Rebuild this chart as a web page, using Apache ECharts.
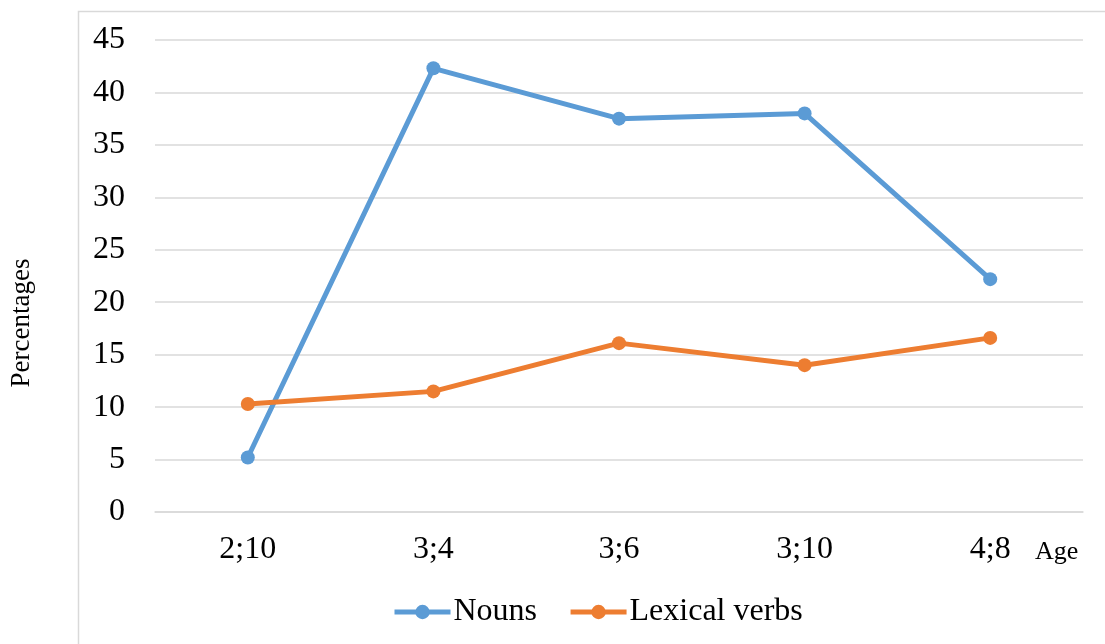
<!DOCTYPE html>
<html>
<head>
<meta charset="utf-8">
<script src="https://cdn.jsdelivr.net/npm/echarts@6/dist/echarts.min.js"></script>
<style>
html,body{margin:0;padding:0;background:#fff;}
#chart{width:1105px;height:644px;}
</style>
</head>
<body>
<div id="chart"></div>
<script>
var categories = ['2;10', '3;4', '3;6', '3;10', '4;8'];
var nouns = [5.2, 42.3, 37.5, 38.0, 22.2];
var lexicalVerbs = [10.3, 11.5, 16.1, 14.0, 16.6];

var font = '"Liberation Serif", "Times New Roman", serif';
var chart = echarts.init(document.getElementById('chart'));
chart.setOption({
  animation: false,
  textStyle: { fontFamily: font },
  graphic: [{
    type: 'rect', left: 76, top: 9, silent: true,
    shape: { width: 1200, height: 800 },
    style: { fill: 'none', stroke: '#d9d9d9', lineWidth: 1.5 }
  }],
  grid: { left: 155, right: 22, top: 40, bottom: 132 },
  legend: {
    bottom: 11, left: 387,
    itemWidth: 56, itemHeight: 18, itemGap: 31,
    lineStyle: { width: 5 },
    textStyle: { fontFamily: font, fontSize: 32, color: '#000', padding: [0, 0, 0, -2] },
    data: ['Nouns', 'Lexical verbs']
  },
  xAxis: {
    type: 'category', data: categories, boundaryGap: true,
    name: 'Age', nameLocation: 'end', nameGap: -48,
    nameTextStyle: { fontFamily: font, fontSize: 26, color: '#000', align: 'left', verticalAlign: 'top', padding: [27, 0, 0, 0] },
    axisLine: { lineStyle: { color: '#d9d9d9', width: 1.5 } },
    axisTick: { show: false },
    axisLabel: { fontFamily: font, fontSize: 32, color: '#000', margin: 22 }
  },
  yAxis: {
    type: 'value', min: 0, max: 45, interval: 5,
    name: 'Percentages', nameLocation: 'middle', nameGap: 120,
    nameTextStyle: { fontFamily: font, fontSize: 27, color: '#000', padding: [0, 94, 0, 0] },
    axisLine: { show: false }, axisTick: { show: false },
    axisLabel: { fontFamily: font, fontSize: 32, color: '#000', margin: 30 },
    splitLine: { lineStyle: { color: '#d9d9d9', width: 1.5 } }
  },
  series: [{
    name: 'Nouns', type: 'line', data: nouns,
    symbol: 'circle', symbolSize: 14,
    lineStyle: { color: '#5b9bd5', width: 5 },
    itemStyle: { color: '#5b9bd5' }
  }, {
    name: 'Lexical verbs', type: 'line', data: lexicalVerbs,
    symbol: 'circle', symbolSize: 14,
    lineStyle: { color: '#ed7d31', width: 5 },
    itemStyle: { color: '#ed7d31' }
  }]
});
</script>
</body>
</html>
